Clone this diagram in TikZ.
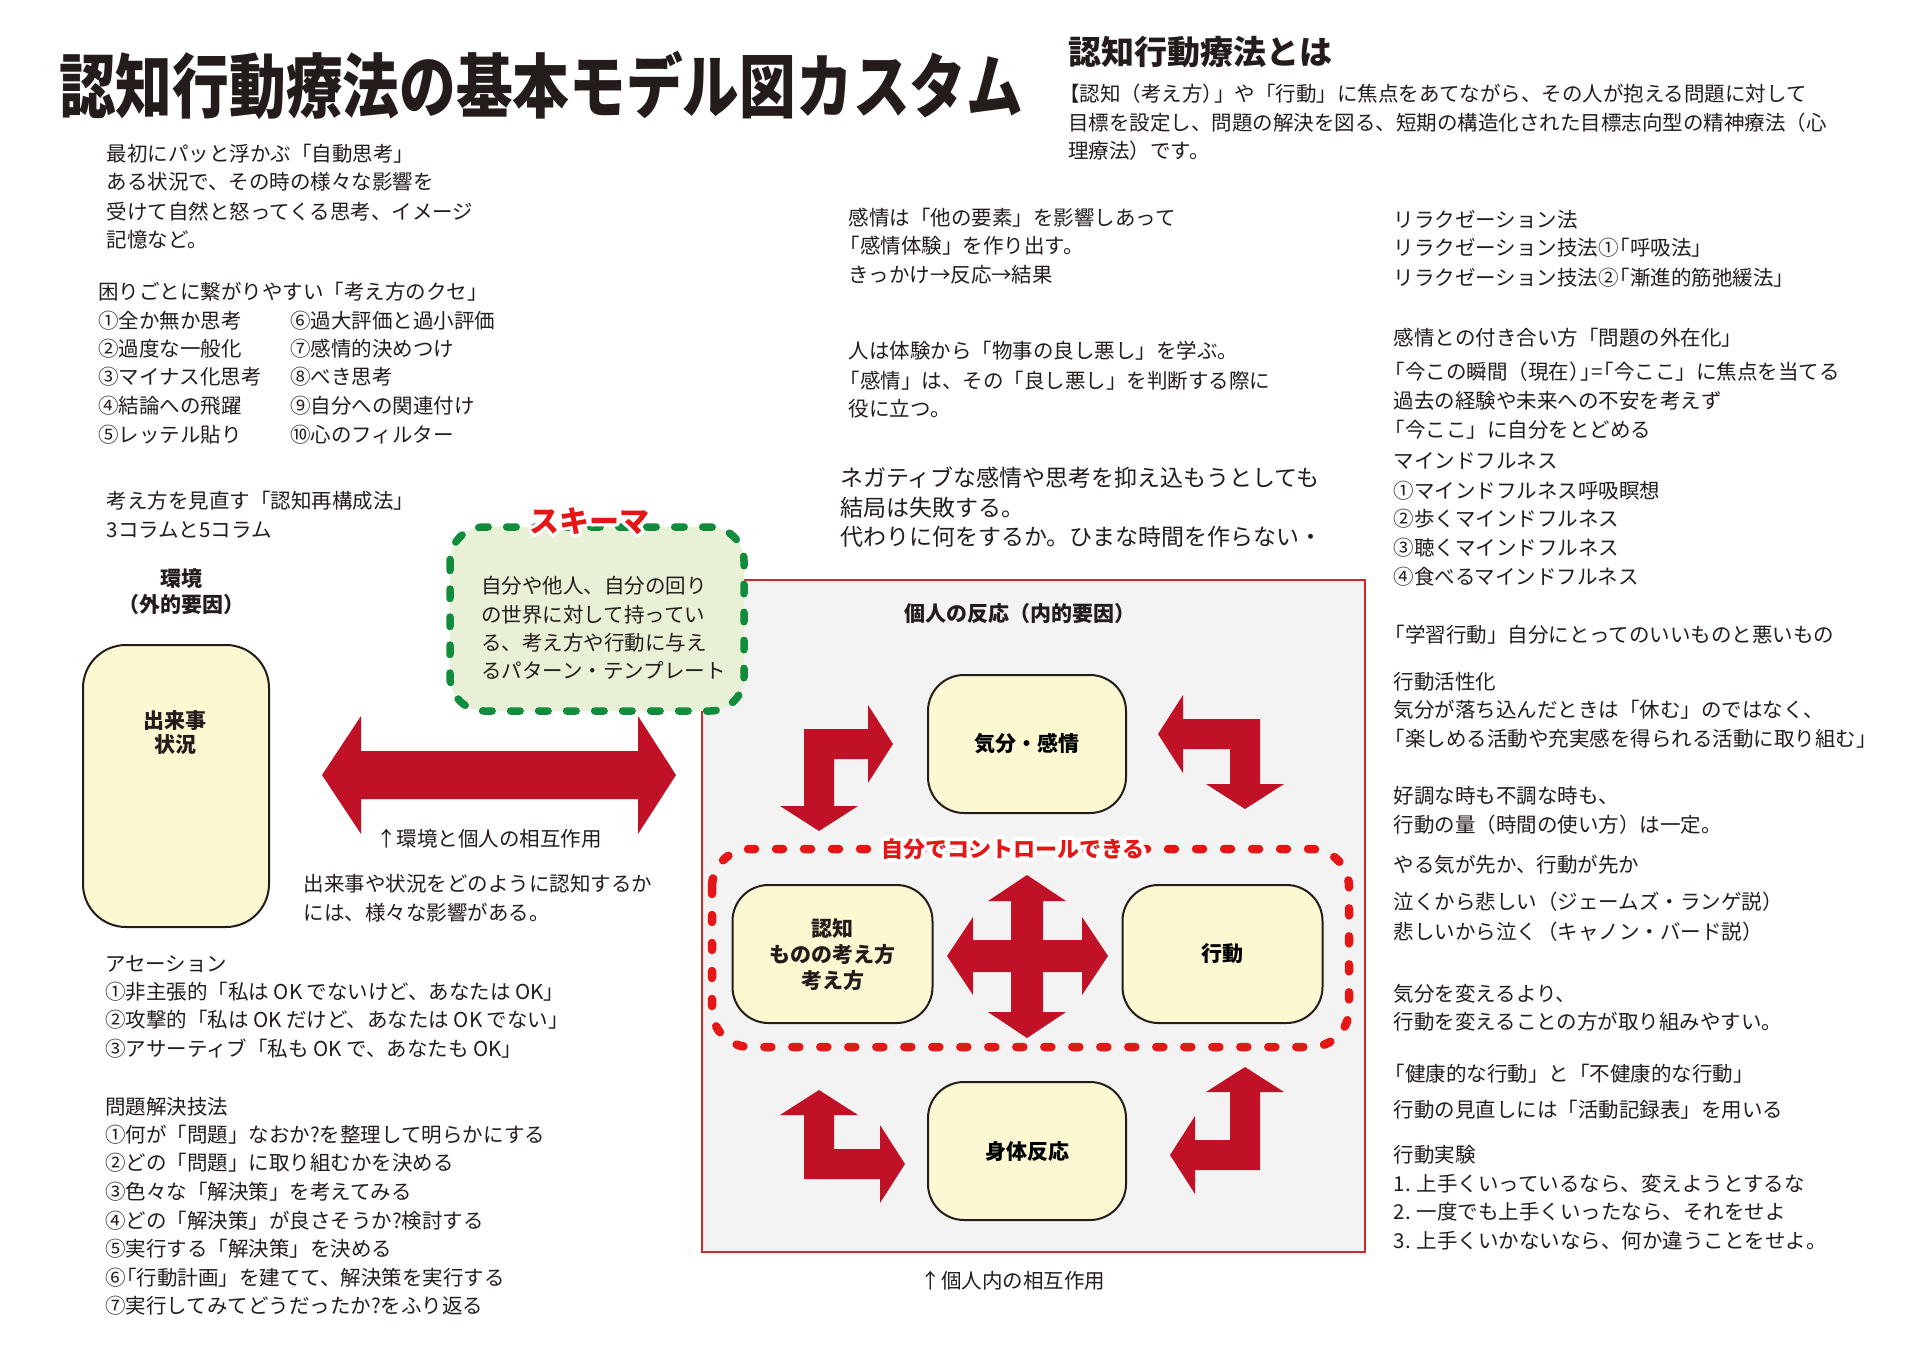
\documentclass[tikz,border=0pt]{standalone}
\usepackage{fontspec}
\setmainfont{Noto Sans CJK JP}
\newfontfamily\titlefont{Noto Sans CJK JP}[FakeStretch=0.81]
\definecolor{ink}{RGB}{35,28,26}
\definecolor{arrowred}{RGB}{193,17,38}
\definecolor{dashred}{RGB}{228,22,22}
\definecolor{boxred}{RGB}{205,40,45}
\definecolor{nodefill}{RGB}{252,248,210}
\definecolor{schemafill}{RGB}{232,240,214}
\definecolor{schemagreen}{RGB}{16,140,60}
\definecolor{panelgray}{RGB}{243,243,243}
\newcommand\myfs{\fontsize{20.5}{24}\selectfont}
\newcommand\myfsb{\fontsize{21}{25}\selectfont\bfseries}
\newcommand\myfsl{\fontsize{23}{27}\selectfont}
\newcommand\nk{\kern-0.45em}
\newcommand\strokeon[1]{\special{pdf:literal direct 1 1 1 RG #1 w 1 j 1 Tr}}
\newcommand\strokeoff{\special{pdf:literal direct 0 Tr}}
\tikzset{
 txt/.style={anchor=base west, inner sep=0pt, font=\myfs, text=ink},
 ltxt/.style={anchor=base west, inner sep=0pt, font=\myfsl, text=ink},
 ctxt/.style={anchor=base, inner sep=0pt, font=\myfs, text=ink},
 btxt/.style={anchor=base, inner sep=0pt, font=\myfsb, text=ink},
 rbox/.style={draw=ink, line width=2pt, fill=nodefill, rounded corners=36pt, inner sep=0pt},
 blockarrow/.style={fill=arrowred},
 schemabox/.style={draw=schemagreen, line width=7.5pt, dash pattern=on 9.5pt off 18.5pt, line cap=round, fill=schemafill, rounded corners=34pt},
 ctrlbox/.style={draw=dashred, line width=8.5pt, dash pattern=on 7pt off 21pt, line cap=round, rounded corners=38pt},
 halo/.style={anchor=base, inner sep=0pt, text=white},
}
\begin{document}
\begin{tikzpicture}[x=1pt,y=-1pt]
\useasboundingbox (0,0) rectangle (1920,1366);
\fill[white] (0,0) rectangle (1920,1366);

% ---- titles
\node[anchor=base west, inner sep=0pt, text=ink, font={\titlefont\bfseries\fontsize{70}{80}\selectfont}] (title) at (59,112) {認知行動療法の基本モデル図カスタム};
\node[anchor=base west, inner sep=0pt, text=ink, font={\bfseries\fontsize{33}{38}\selectfont}] (subtitle) at (1068,64.5) {認知行動療法とは};
\node[txt, xshift=-9pt] (p1) at (1068,101) {【認知（考え方）\nk」や「行動」に焦点をあてながら、その人が抱える問題に対して};
\node[txt] (p2) at (1068,130.5) {目標を設定し、問題の解決を図る、短期の構造化された目標志向型の精神療法（心};
\node[txt] (p3) at (1068,158.6) {理療法）です。};

% ---- left column
\node[txt] (a1) at (106.5,161) {最初にパッと浮かぶ「自動思考」};
\node[txt] (a2) at (106.5,189) {ある状況で、その時の様々な影響を};
\node[txt] (a3) at (106.5,219) {受けて自然と怒ってくる思考、イメージ};
\node[txt] (a4) at (106.5,247) {記憶など。};

\node[txt] (b0) at (98,299) {困りごとに繋がりやすい「考え方のクセ」};
\node[txt] (b1) at (98,328) {①全か無か思考};
\node[txt] (b2) at (98,356) {②過度な一般化};
\node[txt] (b3) at (98,384) {③マイナス化思考};
\node[txt] (b4) at (98,413) {④結論への飛躍};
\node[txt] (b5) at (98,442) {⑤レッテル貼り};
\node[txt] (b6) at (290,328) {⑥過大評価と過小評価};
\node[txt] (b7) at (290,356) {⑦感情的決めつけ};
\node[txt] (b8) at (290,384) {⑧べき思考};
\node[txt] (b9) at (290,413) {⑨自分への関連付け};
\node[txt] (b10) at (290,442) {⑩心のフィルター};

\node[txt] (c1) at (106.5,508) {考え方を見直す「認知再構成法」};
\node[txt] (c2) at (106.5,537) {3コラムと5コラム};

\node[btxt] (env1) at (181,586) {環境};
\node[btxt] (env2) at (181,612) {（外的要因）};

\node[rbox, rounded corners=43pt, minimum width=186pt, minimum height=282pt] (event) at (176,786) {};
\node[btxt] (ev1) at (175,728) {出来事};
\node[btxt] (ev2) at (175,752.5) {状況};

% big double arrow
\fill[blockarrow] (322,775) -- (361,716) -- (361,751) -- (638,751) -- (638,716) -- (676,775) -- (638,834) -- (638,799) -- (361,799) -- (361,834) -- cycle;
\node[ctxt] (inter1) at (489,846) {↑環境と個人の相互作用};
\node[txt] (d1) at (303.7,891) {出来事や状況をどのように認知するか};
\node[txt] (d2) at (303.7,920) {には、様々な影響がある。};

\node[txt] (e0) at (105,971) {アセーション};
\node[txt] (e1) at (105,999) {①非主張的「私は OK でないけど、あなたは OK」};
\node[txt] (e2) at (105,1027) {②攻撃的「私は OK だけど、あなたは OK でない」};
\node[txt] (e3) at (105,1056) {③アサーティブ「私も OK で、あなたも OK」};
\node[txt] (f0) at (105,1114) {問題解決技法};
\node[txt] (f1) at (105,1142) {①何が「問題」なおか?を整理して明らかにする};
\node[txt] (f2) at (105,1170) {②どの「問題」に取り組むかを決める};
\node[txt] (f3) at (105,1199) {③色々な「解決策」を考えてみる};
\node[txt] (f4) at (105,1228) {④どの「解決策」が良さそうか?検討する};
\node[txt] (f5) at (105,1256) {⑤実行する「解決策」を決める};
\node[txt] (f6) at (105,1285) {⑥\nk「行動計画」を建てて、解決策を実行する};
\node[txt] (f7) at (105,1313) {⑦実行してみてどうだったか?をふり返る};

% ---- individual panel
\draw[boxred, fill=panelgray, line width=1.5pt] (702,580) rectangle (1365,1252);
\node[btxt] (panelT) at (1020,621) {個人の反応（内的要因）};

% schema box (over the panel corner)
\draw[schemabox] (450,527) rectangle (744,711);
\node[txt] (s1) at (481,593) {自分や他人、自分の回り};
\node[txt] (s2) at (481,622) {の世界に対して持ってい};
\node[txt] (s3) at (481,650) {る、考え方や行動に与え};
\node[txt] (s4) at (481,678) {るパターン・テンプレート};
\node[halo, font={\bfseries\fontsize{30}{34}\selectfont}] (schemaH) at (589,532) {\strokeon{6.5}スキーマ\strokeoff};
\node[anchor=base, inner sep=0pt, text=dashred, font={\bfseries\fontsize{30}{34}\selectfont}] (schemaT) at (589,532) {スキーマ};

% nodes
\node[rbox, minimum width=198pt, minimum height=138pt, font=\myfsb] (kibun) at (1027,744) {気分・感情};
\node[rbox, minimum width=200pt, minimum height=138pt] (ninchi) at (832.5,954) {};
\node[btxt] (n1) at (832.5,936) {認知};
\node[btxt] (n2) at (832.5,962) {ものの考え方};
\node[btxt] (n3) at (832.5,988) {考え方};
\node[rbox, minimum width=200pt, minimum height=138pt, font=\myfsb] (koudou) at (1222.5,954) {行動};
\node[rbox, minimum width=198pt, minimum height=138pt, font=\myfsb] (shintai) at (1027,1151) {身体反応};

% control dashed box
\draw[ctrlbox] (712,849) rectangle (1349,1047);
\node[halo, font={\bfseries\fontsize{22}{26}\selectfont}] (ctrlH) at (1013,857) {\strokeon{8}自分でコントロールできる\strokeoff};
\node[anchor=base, inner sep=0pt, text=dashred, font={\bfseries\fontsize{22}{26}\selectfont}] (ctrlT) at (1013,857) {自分でコントロールできる};

% cross arrow
\fill[blockarrow] (1027,875) -- (1066,901) -- (1043,901) -- (1043,940) -- (1082,940) -- (1082,917) -- (1108,956) -- (1082,995) -- (1082,972) -- (1043,972) -- (1043,1012) -- (1066,1012) -- (1027,1038) -- (988,1012) -- (1011,1012) -- (1011,972) -- (973,972) -- (973,995) -- (947,956) -- (973,917) -- (973,940) -- (1011,940) -- (1011,901) -- (988,901) -- cycle;

% L arrows
\fill[blockarrow] (804,729) -- (868,729) -- (868,705) -- (893,744) -- (868,783) -- (868,759) -- (834,759) -- (834,806) -- (858,806) -- (819,831) -- (780,806) -- (804,806) -- cycle;
\fill[blockarrow] (1260,719) -- (1183,719) -- (1183,695) -- (1158,734) -- (1183,773) -- (1183,749) -- (1230,749) -- (1230,784) -- (1206,784) -- (1245,809) -- (1284,784) -- (1260,784) -- cycle;
\fill[blockarrow] (804,1179) -- (880,1179) -- (880,1203) -- (905,1164) -- (880,1125) -- (880,1149) -- (834,1149) -- (834,1115) -- (858,1115) -- (819,1090) -- (780,1115) -- (804,1115) -- cycle;
\fill[blockarrow] (1260,1170) -- (1195,1170) -- (1195,1194) -- (1170,1155) -- (1195,1116) -- (1195,1140) -- (1230,1140) -- (1230,1092) -- (1206,1092) -- (1245,1067) -- (1284,1092) -- (1260,1092) -- cycle;

\node[ctxt] (inter2) at (1013,1288) {↑個人内の相互作用};

% ---- middle column
\node[txt] (g1) at (848.6,225) {感情は「他の要素」を影響しあって};
\node[txt, xshift=-9pt] (g2) at (848.6,253) {「感情体験」を作り出す。};
\node[txt] (g3) at (848.6,282) {きっかけ→反応→結果};
\node[txt] (g4) at (848.6,358) {人は体験から「物事の良し悪し」を学ぶ。};
\node[txt, xshift=-9pt] (g5) at (848.6,388) {「感情」は、その「良し悪し」を判断する際に};
\node[txt] (g6) at (848.6,416) {役に立つ。};
\node[ltxt] (h1) at (840,486) {ネガティブな感情や思考を抑え込もうとしても};
\node[ltxt] (h2) at (840,516) {結局は失敗する。};
\node[ltxt] (h3) at (840,545) {代わりに何をするか。ひまな時間を作らない・};

% ---- right column
\node[txt] (r1) at (1393.5,227) {リラクゼーション法};
\node[txt] (r2) at (1393.5,255) {リラクゼーション技法①\nk「呼吸法」};
\node[txt] (r3) at (1393.5,285) {リラクゼーション技法②\nk「漸進的筋弛緩法」};
\node[txt] (r4) at (1393.5,345) {感情との付き合い方「問題の外在化」};
\node[txt, xshift=-9pt] (r5) at (1393.5,379) {「今この瞬間（現在）\nk」\nk=\nk「今ここ」に焦点を当てる};
\node[txt] (r6) at (1393.5,408) {過去の経験や未来への不安を考えず};
\node[txt, xshift=-9pt] (r7) at (1393.5,437) {「今ここ」に自分をとどめる};
\node[txt] (r8) at (1393.5,468) {マインドフルネス};
\node[txt] (r9) at (1393.5,498) {①マインドフルネス呼吸瞑想};
\node[txt] (r10) at (1393.5,526) {②歩くマインドフルネス};
\node[txt] (r11) at (1393.5,555) {③聴くマインドフルネス};
\node[txt] (r12) at (1393.5,584) {④食べるマインドフルネス};
\node[txt, xshift=-9pt] (r13) at (1393.5,642) {「学習行動」自分にとってのいいものと悪いもの};
\node[txt] (r14) at (1393.5,689) {行動活性化};
\node[txt] (r15) at (1393.5,717) {気分が落ち込んだときは「休む」のではなく、};
\node[txt, xshift=-9pt] (r16) at (1393.5,746) {「楽しめる活動や充実感を得られる活動に取り組む」};
\node[txt] (r17) at (1393.5,803) {好調な時も不調な時も、};
\node[txt] (r18) at (1393.5,832) {行動の量（時間の使い方）は一定。};
\node[txt] (r19) at (1393.5,872) {やる気が先か、行動が先か};
\node[txt] (r20) at (1393.5,909) {泣くから悲しい（ジェームズ・ランゲ説）};
\node[txt] (r21) at (1393.5,939) {悲しいから泣く（キャノン・バード説）};
\node[txt] (r22) at (1393.5,1001) {気分を変えるより、};
\node[txt] (r23) at (1393.5,1029) {行動を変えることの方が取り組みやすい。};
\node[txt, xshift=-9pt] (r24) at (1393.5,1081) {「健康的な行動」と「不健康的な行動」};
\node[txt] (r25) at (1393.5,1117) {行動の見直しには「活動記録表」を用いる};
\node[txt] (r26) at (1393.5,1162) {行動実験};
\node[txt] (r27) at (1393.5,1191) {1. 上手くいっているなら、変えようとするな};
\node[txt] (r28) at (1393.5,1219) {2. 一度でも上手くいったなら、それをせよ};
\node[txt] (r29) at (1393.5,1248) {3. 上手くいかないなら、何か違うことをせよ。};
\end{tikzpicture}
\end{document}
